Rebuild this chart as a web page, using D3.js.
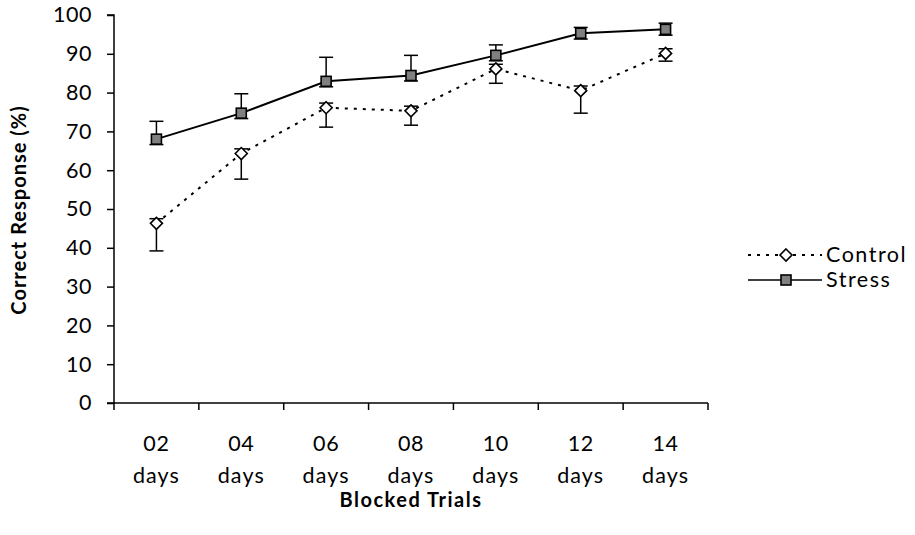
<!DOCTYPE html>
<html>
<head>
<meta charset="utf-8">
<script src="https://cdn.jsdelivr.net/npm/d3@7"></script>
<style>
  html, body { margin: 0; padding: 0; background: #fff; }
  svg { display: block; }
  text { font-family: Lato, "Open Sans", sans-serif; fill: #000; }
</style>
</head>
<body>
<svg id="chart" width="915" height="535"></svg>
<script>
// Blocked trial labels (two lines each)
const trials = ["02", "04", "06", "08", "10", "12", "14"];
const trialUnit = "days";

// Percentage of correct responses per group
const controlValues = [46.3, 64.3, 76.1, 75.3, 86.1, 80.5, 90.1];
const controlErrLow = [7.1, 6.6, 5.0, 3.7, 3.7, 5.8, 2.0];
const controlErrHigh = [1.2, 1.2, 1.2, 1.2, 1.2, 1.2, 1.2];

const stressValues = [68.0, 74.7, 82.9, 84.4, 89.6, 95.3, 96.3];
const stressErrHigh = [4.6, 5.0, 6.2, 5.2, 2.7, 1.5, 1.6];
const stressErrLow = [1.4, 1.4, 1.4, 1.4, 1.4, 1.5, 1.5];

const yTicks = [0, 10, 20, 30, 40, 50, 60, 70, 80, 90, 100];

const svg = d3.select("#chart");
const plotLeft = 114, plotRight = 708, plotTop = 15, plotBottom = 403;
const labelSize = 21.5;

const x = d3.scaleBand().domain(trials).range([plotLeft, plotRight]);
const y = d3.scaleLinear().domain([0, 100]).range([plotBottom, plotTop]);
const cx = d => x(d) + x.bandwidth() / 2;

// Axes
const yAxis = svg.append("g")
  .attr("transform", `translate(${plotLeft},0)`)
  .call(d3.axisLeft(y).tickValues(yTicks).tickSize(7).tickPadding(15).tickFormat(d3.format("d")));
const xAxis = svg.append("g")
  .attr("transform", `translate(0,${plotBottom})`)
  .call(d3.axisBottom(x).tickSize(0).tickFormat(""));
// Tick marks at band boundaries
xAxis.selectAll("line.bnd")
  .data(trials.concat(["end"]))
  .enter().append("line")
  .attr("class", "bnd")
  .attr("x1", (d, i) => plotLeft + i * x.bandwidth())
  .attr("x2", (d, i) => plotLeft + i * x.bandwidth())
  .attr("y1", 0).attr("y2", 7)
  .attr("stroke", "#000").attr("stroke-width", 1.5);

[yAxis, xAxis].forEach(g => {
  g.select(".domain").attr("stroke", "#000").attr("stroke-width", 1.5);
  g.selectAll(".tick line").attr("stroke", "#000").attr("stroke-width", 1.5);
});
yAxis.select(".domain").attr("d", `M-7,${plotBottom}H0V${plotTop}H-7`);
xAxis.select(".domain").attr("d", `M${plotLeft},0H${plotRight}`);
yAxis.selectAll(".tick text").attr("font-size", labelSize).attr("fill", "#000")
  .style("font-family", "Lato, 'Open Sans', sans-serif")
  .style("letter-spacing", "0.5px");

// Two-line category labels
const xl = svg.append("g").attr("font-size", labelSize);
trials.forEach(t => {
  xl.append("text").attr("x", cx(t)).attr("y", 451).attr("text-anchor", "middle")
    .style("letter-spacing", "0.6px").text(t);
  xl.append("text").attr("x", cx(t)).attr("y", 483).attr("text-anchor", "middle")
    .style("letter-spacing", "1.1px").text(trialUnit);
});

// Axis titles
svg.append("text").attr("x", 411).attr("y", 507).attr("text-anchor", "middle")
  .attr("font-size", 20).attr("font-weight", "bold").style("letter-spacing", "1.5px")
  .text("Blocked Trials");
svg.append("text").attr("transform", "translate(26,210) rotate(-90)")
  .attr("text-anchor", "middle").attr("font-size", 20).attr("font-weight", "bold")
  .style("letter-spacing", "1px")
  .text("Correct Response (%)");

const line = d3.line().x((d, i) => cx(trials[i])).y(d => y(d));

// Error bars
function errorBars(vals, lo, hi) {
  const g = svg.append("g").attr("stroke", "#000").attr("stroke-width", 1.5);
  vals.forEach((v, i) => {
    const px = cx(trials[i]);
    const y1 = y(v - lo[i]), y2 = y(v + hi[i]);
    g.append("line").attr("x1", px).attr("x2", px).attr("y1", y1).attr("y2", y2);
    g.append("line").attr("x1", px - 7).attr("x2", px + 7).attr("y1", y1).attr("y2", y1);
    g.append("line").attr("x1", px - 7).attr("x2", px + 7).attr("y1", y2).attr("y2", y2);
  });
}
errorBars(controlValues, controlErrLow, controlErrHigh);
errorBars(stressValues, stressErrLow, stressErrHigh);

// Series lines
svg.append("path").datum(controlValues).attr("d", line)
  .attr("fill", "none").attr("stroke", "#000").attr("stroke-width", 2)
  .attr("stroke-dasharray", "3,6");
svg.append("path").datum(stressValues).attr("d", line)
  .attr("fill", "none").attr("stroke", "#000").attr("stroke-width", 2);

// Markers
function diamond(g, px, py) {
  g.append("path").attr("d", `M${px},${py - 6}L${px + 6},${py}L${px},${py + 6}L${px - 6},${py}Z`)
    .attr("fill", "#fff").attr("stroke", "#000").attr("stroke-width", 1.6);
}
function square(g, px, py) {
  g.append("rect").attr("x", px - 5).attr("y", py - 5).attr("width", 10).attr("height", 10)
    .attr("fill", "#808080").attr("stroke", "#000").attr("stroke-width", 1.6);
}
const mk = svg.append("g");
controlValues.forEach((v, i) => diamond(mk, cx(trials[i]), y(v)));
stressValues.forEach((v, i) => square(mk, cx(trials[i]), y(v)));

// Legend
const lg = svg.append("g").attr("font-size", labelSize).style("letter-spacing", "1.5px");
lg.append("line").attr("x1", 748).attr("x2", 822).attr("y1", 255).attr("y2", 255)
  .attr("stroke", "#000").attr("stroke-width", 2).attr("stroke-dasharray", "3,6");
diamond(lg, 786, 255);
lg.append("text").attr("x", 826).attr("y", 262).text("Control");
lg.append("line").attr("x1", 748).attr("x2", 822).attr("y1", 280).attr("y2", 280)
  .attr("stroke", "#000").attr("stroke-width", 1.5);
square(lg, 786, 280);
lg.append("text").attr("x", 826).attr("y", 287).text("Stress");
</script>
</body>
</html>
